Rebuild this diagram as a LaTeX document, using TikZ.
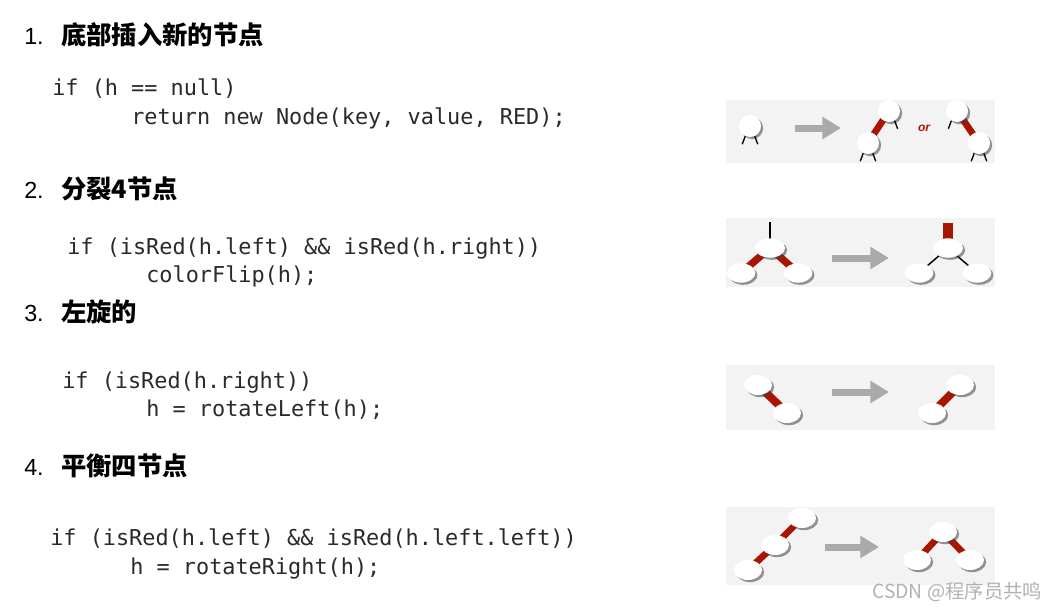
\documentclass[tikz,border=0pt]{standalone}
\usepackage{fontspec}
\setmainfont{Liberation Sans}
\newfontfamily\cjk{Noto Sans CJK SC}
\newfontfamily\codefont{DejaVu Sans Mono}
\usetikzlibrary{shapes.geometric,shadows,arrows.meta}
\pgfdeclarelayer{panels}
\pgfdeclarelayer{links}
\pgfsetlayers{panels,links,main}
\definecolor{panelgray}{HTML}{F3F3F3}
\definecolor{linkred}{HTML}{A81500}
\definecolor{arrowgray}{HTML}{AAAAAA}
\definecolor{codecol}{HTML}{2A2A2A}
\tikzset{
  panel/.style={fill=panelgray,draw=none},
  headnum/.style={anchor=base west,inner sep=0pt,font=\fontsize{17.5}{20}\selectfont},
  headcjk/.style={anchor=base west,inner sep=0pt,font=\cjk\bfseries\fontsize{19}{22}\selectfont},
  code/.style={anchor=base west,inner sep=0pt,text=codecol,font=\codefont\fontsize{16.4}{20}\selectfont},
  nshadow/.style={drop shadow={shadow xshift=1.6pt,shadow yshift=-1.6pt,fill=black!75,opacity=0.55}},
  cnode/.style={circle,fill=white,draw=none,minimum size=16.5pt,inner sep=0pt,nshadow},
  enode/.style={ellipse,fill=white,draw=none,minimum width=21.5pt,minimum height=14.5pt,inner sep=0pt,nshadow},
  redlink/.style={draw=linkred,line width=5.5pt},
  blacklink/.style={draw=black,line width=1.1pt},
  leg/.style={draw=black,line width=1pt},
  bigarrow/.style={draw=arrowgray,line width=5.25pt,-{Triangle[length=14pt,width=16pt]}},
  ortext/.style={text=linkred,font=\itshape\bfseries\fontsize{9}{10}\selectfont,inner sep=0pt},
}
\begin{document}
\begin{tikzpicture}[x=0.75pt,y=-0.75pt]
\useasboundingbox (0,0) rectangle (1046,610);

% ---------- headings ----------
\node[headnum] (n1) at (24,45) {1.};
\node[headcjk] (t1) at (61,45) {底部插入新的节点};
\node[headnum] (n2) at (24,198) {2.};
\node[headcjk] (t2) at (61,198) {分裂4节点};
\node[headnum] (n3) at (24,321) {3.};
\node[headcjk] (t3) at (61,321) {左旋的};
\node[headnum] (n4) at (24,475) {4.};
\node[headcjk] (t4) at (61,475) {平衡四节点};

% ---------- code ----------
\node[code] (c1a) at (52,96) {if (h == null)};
\node[code] (c1b) at (131,124) {return new Node(key, value, RED);};
\node[code] (c2a) at (67,254) {if (isRed(h.left) \&\& isRed(h.right))};
\node[code] (c2b) at (146,282) {colorFlip(h);};
\node[code] (c3a) at (62,388) {if (isRed(h.right))};
\node[code] (c3b) at (146,416) {h = rotateLeft(h);};
\node[code] (c4a) at (50,545) {if (isRed(h.left) \&\& isRed(h.left.left))};
\node[code] (c4b) at (130,574) {h = rotateRight(h);};

% ---------- panels ----------
\begin{pgfonlayer}{panels}
\fill[white] (0,0) rectangle (1046,610);
\path[panel] (726,100) rectangle (995,163);
\path[panel] (726,218) rectangle (995,287);
\path[panel] (726,365) rectangle (995,430);
\path[panel] (726,507) rectangle (995,585);
\end{pgfonlayer}

% ---------- panel 1 ----------
\coordinate (a1s) at (795,128);
\coordinate (a1e) at (841,128);
\draw[bigarrow] (a1s) -- (a1e);
\node[cnode] (p1a) at (750,126) {};
\node[cnode] (p1lu) at (889,111) {};
\node[cnode] (p1ll) at (868,143) {};
\node[cnode] (p1ru) at (957,111) {};
\node[cnode] (p1rl) at (979,143) {};
\node[ortext] (p1or) at (924,128) {or};
\draw[leg] (p1a.-115) -- ++(-3,8);
\draw[leg] (p1a.-65) -- ++(3,8);
\draw[leg] (p1lu.-60) -- ++(3,8);
\draw[leg] (p1ll.-115) -- ++(-3,8);
\draw[leg] (p1ll.-65) -- ++(3,8);
\draw[leg] (p1ru.-120) -- ++(-3,8);
\draw[leg] (p1rl.-115) -- ++(-3,8);
\draw[leg] (p1rl.-65) -- ++(3,8);

% ---------- panel 2 ----------
\coordinate (a2s) at (832,258);
\coordinate (a2e) at (889,258);
\draw[bigarrow] (a2s) -- (a2e);
\node[enode,minimum width=22.5pt] (p2t) at (770,248) {};
\node[enode] (p2l) at (741,273) {};
\node[enode] (p2r) at (798,273) {};
\node[enode,minimum width=22.5pt] (q2t) at (948,248) {};
\node[enode] (q2l) at (919,273) {};
\node[enode] (q2r) at (977,273) {};
\coordinate (p2top) at (770,222);
\coordinate (q2top) at (948,223);

% ---------- panel 3 ----------
\coordinate (a3s) at (832,392);
\coordinate (a3e) at (889,392);
\draw[bigarrow] (a3s) -- (a3e);
\node[enode,minimum width=21pt,minimum height=15pt] (p3u) at (758,385) {};
\node[enode,minimum width=21pt,minimum height=15pt] (p3l) at (787,413) {};
\node[enode,minimum width=21pt,minimum height=15pt] (q3u) at (960,385) {};
\node[enode,minimum width=21pt,minimum height=15pt] (q3l) at (932,413) {};

% ---------- panel 4 ----------
\coordinate (a4s) at (825,547);
\coordinate (a4e) at (879,547);
\draw[bigarrow] (a4s) -- (a4e);
\node[enode,minimum width=21pt,minimum height=15pt] (p4t) at (802,518) {};
\node[enode,minimum width=21pt,minimum height=15pt] (p4m) at (775,545) {};
\node[enode,minimum width=21pt,minimum height=15pt] (p4b) at (748,570) {};
\node[enode,minimum width=21pt,minimum height=15pt] (q4t) at (943,532) {};
\node[enode,minimum width=21pt,minimum height=15pt] (q4l) at (917,560) {};
\node[enode,minimum width=21pt,minimum height=15pt] (q4r) at (970,560) {};

% ---------- links (behind nodes) ----------
\begin{pgfonlayer}{links}
\draw[redlink,line width=5pt] (p1lu.center) -- (p1ll.center);
\draw[redlink,line width=5pt] (p1ru.center) -- (p1rl.center);
\draw[blacklink,line width=1.5pt] (p2top) -- (p2t.center);
\draw[redlink] (p2t.center) -- (p2l.center);
\draw[redlink] (p2t.center) -- (p2r.center);
\draw[redlink,line width=7.5pt] (q2top) -- (q2t.center);
\draw[blacklink] (q2t.center) -- (q2l.center);
\draw[blacklink] (q2t.center) -- (q2r.center);
\draw[redlink,line width=6pt] (p3u.center) -- (p3l.center);
\draw[redlink,line width=6pt] (q3u.center) -- (q3l.center);
\draw[redlink,line width=5pt] (p4t.center) -- (p4m.center);
\draw[redlink,line width=5pt] (p4m.center) -- (p4b.center);
\draw[redlink,line width=5pt] (q4t.center) -- (q4l.center);
\draw[redlink,line width=5pt] (q4t.center) -- (q4r.center);
\end{pgfonlayer}

% ---------- watermark ----------
\node[anchor=base west,inner sep=0pt,text=black!30,font=\cjk\fontsize{14.5}{17}\selectfont] (wm) at (872,598) {CSDN @程序员共鸣};
\end{tikzpicture}
\end{document}
